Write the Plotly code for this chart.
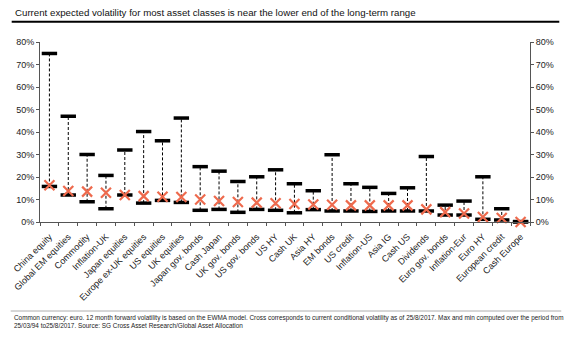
import plotly.graph_objects as go

categories = ["China equity", "Global EM equities", "Commodity", "Inflation-UK", "Japan equities",
              "Europe ex-UK equities", "US equities", "UK equities", "Japan gov. bonds", "Cash Japan",
              "UK gov. bonds", "US gov. bonds", "US HY", "Cash UK", "Asia HY", "EM bonds", "US credit",
              "Inflation-US", "Asia IG", "Cash US", "Dividends", "Euro gov. bonds", "Inflation-Eur",
              "Euro HY", "European credit", "Cash Europe"]
max_vol = [74.9, 47.0, 30.0, 20.7, 32.0, 40.2, 36.1, 46.2, 24.6, 22.6, 18.0, 20.1, 23.2, 17.0, 13.9,
           29.9, 17.0, 15.4, 12.7, 15.2, 29.1, 7.5, 9.3, 20.1, 5.9, 0.2]
min_vol = [15.8, 12.0, 9.0, 5.9, 12.0, 8.4, 9.6, 8.7, 5.2, 5.6, 4.3, 5.6, 5.2, 4.1, 5.5,
           4.9, 4.9, 4.7, 4.9, 4.9, 4.9, 3.1, 3.1, 1.2, 0.9, 0.0]
current_vol = [16.3, 13.8, 13.5, 13.0, 12.0, 11.5, 11.2, 11.1, 10.0, 9.3, 8.9, 8.6, 8.3, 8.0, 7.8,
               7.7, 7.4, 7.4, 7.4, 7.4, 5.6, 4.4, 3.8, 2.2, 1.8, 0.0]
y_ticks = [0, 10, 20, 30, 40, 50, 60, 70, 80]
y_tick_labels = [f"{v}%" for v in y_ticks]

title_text = "Current expected volatility for most asset classes is near the lower end of the long-term range"
foot_text = ("Common currency: euro. 12 month forward volatility is based on the EWMA model. Cross corresponds to current "
             "conditional volatility as of 25/8/2017. Max and min computed over the period from<br>"
             "25/03/94 to25/8/2017. Source: SG Cross Asset Research/Global Asset Allocation")

FONT = "Liberation Sans, Arial, sans-serif"

# dashed range lines
lx, ly = [], []
for c, lo, hi in zip(categories, min_vol, max_vol):
    lx += [c, c, None]
    ly += [lo, hi, None]

fig = go.Figure()
fig.add_trace(go.Scatter(x=lx, y=ly, mode="lines", line=dict(color="black", width=1, dash="3px,2px"),
                         hoverinfo="skip", showlegend=False))
fig.add_trace(go.Scatter(x=categories, y=max_vol, mode="markers",
                         marker=dict(symbol="line-ew", size=11, line=dict(color="black", width=3.5)),
                         showlegend=False, cliponaxis=False))
fig.add_trace(go.Scatter(x=categories, y=min_vol, mode="markers",
                         marker=dict(symbol="line-ew", size=11, line=dict(color="black", width=3.5)),
                         showlegend=False, cliponaxis=False))
fig.add_trace(go.Scatter(x=categories, y=current_vol, mode="markers",
                         marker=dict(symbol="x-thin", size=10, line=dict(color="#EE6A4D", width=2.2)),
                         showlegend=False, cliponaxis=False))
fig.add_trace(go.Scatter(x=categories, y=current_vol, mode="markers", yaxis="y2",
                         marker=dict(opacity=0), hoverinfo="skip", showlegend=False))

axis_font = dict(family=FONT, size=9, color="#222")
fig.update_layout(
    width=566, height=343,
    margin=dict(l=32, r=32, t=42, b=121),
    paper_bgcolor="white", plot_bgcolor="white",
    font=dict(family=FONT, color="#222"),
    xaxis=dict(type="category", categoryorder="array", categoryarray=categories,
               tickangle=-45, tickfont=dict(family=FONT, size=9, color="#222"),
               ticklabelstandoff=5,
               showline=True, linecolor="#555", linewidth=1,
               ticks="outside", ticklen=3, tickcolor="#555", tickson="boundaries",
               showgrid=False, zeroline=False, range=[-0.5, len(categories) - 0.5]),
    yaxis=dict(range=[0, 80], tickvals=y_ticks, ticktext=y_tick_labels, tickfont=axis_font,
               showline=True, linecolor="#555", linewidth=1, ticks="outside", ticklen=3,
               tickcolor="#555", showgrid=False, zeroline=False),
    yaxis2=dict(range=[0, 80], tickvals=y_ticks, ticktext=y_tick_labels, tickfont=axis_font,
                overlaying="y", side="right", anchor="x",
                showline=True, linecolor="#555", linewidth=1, ticks="outside", ticklen=3,
                tickcolor="#555", showgrid=False, zeroline=False),
    shapes=[
        dict(type="line", xref="paper", yref="paper", x0=-29/502, x1=532/502,
             y0=(222 - 21.7) / 180, y1=(222 - 21.7) / 180, line=dict(color="black", width=2)),
        dict(type="line", xref="paper", yref="paper", x0=-30/502, x1=534/502,
             y0=(222 - 311) / 180, y1=(222 - 311) / 180, line=dict(color="#999", width=0.8)),
    ],
    annotations=[
        dict(text=title_text, xref="paper", yref="paper", x=-28/502, y=(222 - 13) / 180,
             xanchor="left", yanchor="middle", showarrow=False,
             font=dict(family=FONT, size=9.7, color="#111")),
        dict(text=foot_text, xref="paper", yref="paper", x=-29/502, y=(222 - 312) / 180,
             xanchor="left", yanchor="top", showarrow=False, align="left",
             font=dict(family=FONT, size=6.4, color="#222")),
    ],
)

fig.write_html("out.html")
